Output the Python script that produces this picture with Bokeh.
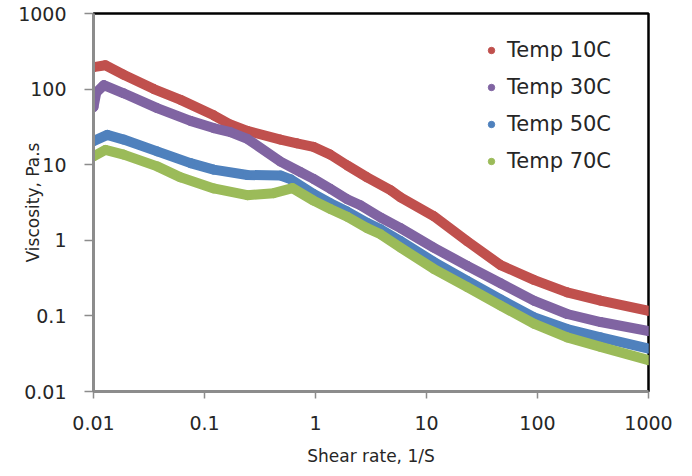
from bokeh.plotting import figure
from bokeh.models import FixedTicker, CustomJSTickFormatter, Legend, LegendItem
from bokeh.embed import file_html
from bokeh.resources import INLINE

# ---- data ----
x_10 = [0.01, 0.0128, 0.0187, 0.035, 0.061, 0.121, 0.171, 0.243, 0.484, 0.68, 0.96, 1.36, 1.93, 2.92, 4.74, 5.84, 11.6, 23.3, 46.5, 92.6, 185, 370, 1000]
y_10 = [195, 207, 155, 100, 72, 45, 34, 28, 21.5, 19.2, 17.2, 13.6, 9.8, 6.8, 4.6, 3.7, 2.09, 0.97, 0.47, 0.30, 0.205, 0.159, 0.117]

x_30 = [0.01, 0.0106, 0.0124, 0.0187, 0.0375, 0.0748, 0.121, 0.171, 0.243, 0.484, 0.73, 0.96, 1.36, 1.93, 2.54, 3.86, 5.84, 11.6, 23.3, 46.5, 92.6, 185, 370, 1000]
y_30 = [58, 90, 113, 88, 56, 38, 30.5, 27, 22, 11, 8.0, 6.5, 4.8, 3.5, 2.9, 2.0, 1.45, 0.8, 0.46, 0.27, 0.159, 0.106, 0.083, 0.063]

x_50 = [0.01, 0.0133, 0.0187, 0.0375, 0.0748, 0.121, 0.243, 0.484, 0.6, 0.96, 1.36, 1.93, 2.92, 3.86, 5.84, 11.6, 23.3, 46.5, 92.6, 185, 370, 1000]
y_50 = [20.5, 24.8, 21.5, 15, 10.5, 8.6, 7.3, 7.2, 6.4, 4.1, 3.1, 2.4, 1.7, 1.4, 0.98, 0.52, 0.29, 0.165, 0.096, 0.067, 0.052, 0.037]

x_70 = [0.01, 0.0128, 0.0187, 0.0375, 0.0608, 0.121, 0.243, 0.42, 0.62, 0.96, 1.36, 1.93, 2.92, 3.86, 5.84, 11.6, 23.3, 46.5, 92.6, 185, 370, 1000]
y_70 = [12.9, 15.7, 13.6, 9.5, 6.8, 4.85, 3.95, 4.2, 4.9, 3.35, 2.6, 2.05, 1.45, 1.2, 0.8, 0.42, 0.24, 0.137, 0.079, 0.052, 0.039, 0.026]

series_names = ["Temp 10C", "Temp 30C", "Temp 50C", "Temp 70C"]
series_colors = ["#C0504D", "#8064A2", "#4F81BD", "#9BBB59"]
series_x = [x_10, x_30, x_50, x_70]
series_y = [y_10, y_30, y_50, y_70]

tick_values = [0.01, 0.1, 1, 10, 100, 1000]

p = figure(width=684, height=468, x_axis_type="log", y_axis_type="log",
           x_range=(0.01, 1000), y_range=(0.01, 1000),
           output_backend="svg", toolbar_location=None,
           min_border_left=93, min_border_right=36, min_border_top=13, min_border_bottom=75)
p.grid.visible = False
p.background_fill_color = "white"
p.border_fill_color = "white"
p.outline_line_color = "black"
p.outline_line_width = 2.5

items = []
for xs, ys, name, col in zip(series_x, series_y, series_names, series_colors):
    p.line(xs, ys, line_color=col, line_width=10, line_cap="round", line_join="round")
    r = p.scatter(xs, ys, size=9, fill_color=col, line_color=col)
    items.append(LegendItem(label=name, renderers=[r]))

legend = Legend(items=items, location=(390, 218))
legend.border_line_color = None
legend.background_fill_alpha = 0
legend.padding = 0
legend.margin = 0
legend.spacing = 13
legend.glyph_width = 16
legend.glyph_height = 20
legend.label_height = 20
legend.label_standoff = 8
legend.label_text_font = "DejaVu Sans"
legend.label_text_font_size = "21px"
legend.label_text_color = "#262626"
p.add_layout(legend, "center")

fmt = CustomJSTickFormatter(code="return Number(tick.toPrecision(6)).toString();")
for ax in (p.xaxis[0], p.yaxis[0]):
    ax.ticker = FixedTicker(ticks=tick_values)
    ax.formatter = fmt
    ax.minor_tick_line_color = None
    ax.axis_line_color = "#8c8c8c"
    ax.axis_line_width = 3
    ax.major_tick_line_color = "#8c8c8c"
    ax.major_tick_line_width = 1.5
    ax.major_tick_in = 0
    ax.major_label_text_font = "DejaVu Sans"
    ax.major_label_text_font_size = "19px"
    ax.major_label_text_color = "#262626"
    ax.axis_label_text_font = "DejaVu Sans"
    ax.axis_label_text_font_size = "17px"
    ax.axis_label_text_font_style = "normal"
    ax.axis_label_text_color = "#262626"

p.xaxis.axis_label = "Shear rate, 1/S"
p.yaxis.axis_label = "Viscosity, Pa.s"
p.xaxis.major_tick_out = 7
p.yaxis.major_tick_out = 9
p.xaxis.major_label_standoff = 17
p.yaxis.major_label_standoff = 18
p.xaxis.axis_label_standoff = 13
p.yaxis.axis_label_standoff = -28

open("out.html", "w").write(file_html(p, INLINE))
